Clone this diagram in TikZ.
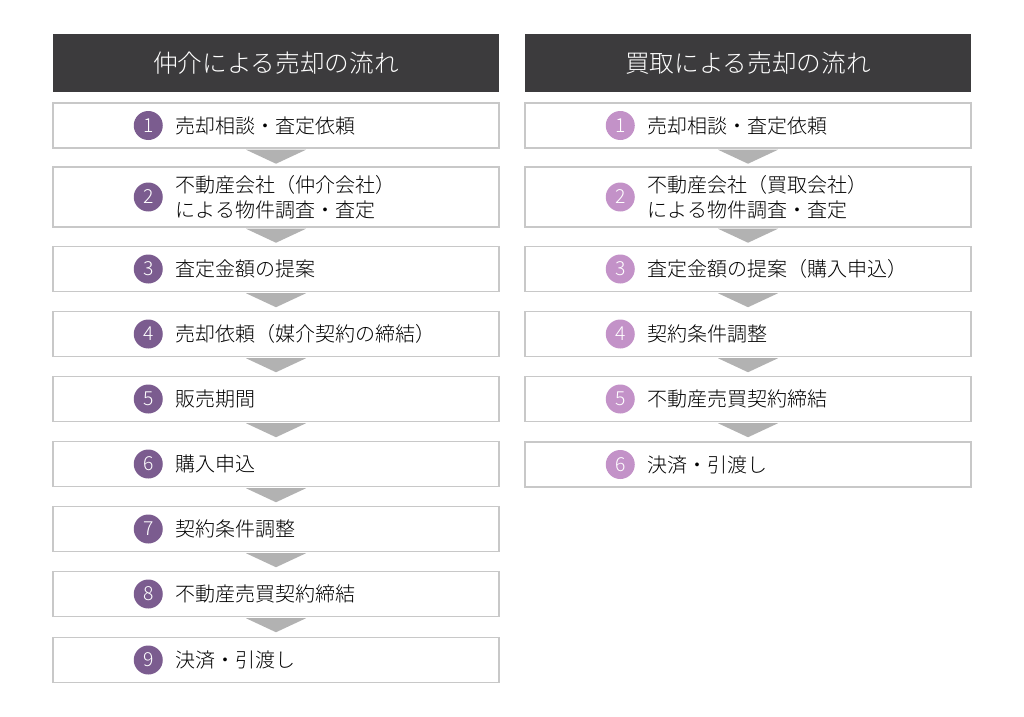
\documentclass[tikz,border=0pt]{standalone}
\usepackage{fontspec}
\setmainfont{Noto Sans CJK JP Light}
\usetikzlibrary{positioning,calc}
\definecolor{headgray}{HTML}{3C3B3D}
\definecolor{boxgray}{HTML}{C8C8C8}
\definecolor{arrowgray}{HTML}{B2B2B2}
\definecolor{darkplum}{HTML}{7B5C8F}
\definecolor{lightplum}{HTML}{C392C8}

\begin{document}
\begin{tikzpicture}[x=0.75pt, y=-0.75pt,
  head/.style={fill=headgray, text=white, minimum width=334.5pt, minimum height=43.5pt, inner sep=0pt, font=\fontsize{18.5}{22}\selectfont},
  stepbox/.style={draw=boxgray, line width=1.1pt, fill=white, minimum width=334.5pt, minimum height=#1, inner sep=0pt},
  numdot/.style={circle, fill=#1, text=white, minimum size=21.75pt, inner sep=0pt, font=\fontsize{14.5}{14.5}\selectfont},
  steptext/.style={inner sep=0pt, anchor=west, align=left, font=\fontsize{15}{19}\selectfont},
  flow/.style={fill=arrowgray}]
\useasboundingbox (0,0) rectangle (1024,717);
% Headers
\node[head] (lhead) at (276,63) {仲介による売却の流れ};
\node[head] (rhead) at (748,63) {買取による売却の流れ};
% Left column: brokerage
\foreach \n/\y/\h/\t in {1/125.5/33.75pt/{売却相談・査定依頼},
    2/197/45pt/{不動産会社（仲介会社）\\による物件調査・査定},
    3/269/33.75pt/{査定金額の提案},
    4/334/33.75pt/{売却依頼（媒介契約の締結）},
    5/399/33.75pt/{販売期間},
    6/464/33.75pt/{購入申込},
    7/529/33.75pt/{契約条件調整},
    8/594/33.75pt/{不動産売買契約締結},
    9/660/33.75pt/{決済・引渡し}}
{
    \node[stepbox=\h] (lb\n) at (276,\y) {};
    \node[numdot=darkplum] (ln\n) at ($(lb\n.west)+(96,0)$) {\n};
    \node[steptext, right=9.5pt of ln\n] (lt\n) {\t};
}
% Right column: direct purchase
\foreach \n/\y/\h/\t in {1/125.5/33.75pt/{売却相談・査定依頼},
    2/197/45pt/{不動産会社（買取会社）\\による物件調査・査定},
    3/269/33.75pt/{査定金額の提案（購入申込）},
    4/334/33.75pt/{契約条件調整},
    5/399/33.75pt/{不動産売買契約締結},
    6/464.5/33.75pt/{決済・引渡し}}
{
    \node[stepbox=\h] (rb\n) at (748,\y) {};
    \node[numdot=lightplum] (rn\n) at ($(rb\n.west)+(96,0)$) {\n};
    \node[steptext, right=9.5pt of rn\n] (rt\n) {\t};
}
% Arrows between steps
\foreach \a in {1,...,8}
    \fill[flow] ($(lb\a.south)+(-30,1)$) -- ($(lb\a.south)+(30,1)$) -- ($(lb\a.south)+(0,15)$) -- cycle;
\foreach \a in {1,...,5}
    \fill[flow] ($(rb\a.south)+(-30,1)$) -- ($(rb\a.south)+(30,1)$) -- ($(rb\a.south)+(0,15)$) -- cycle;
\end{tikzpicture}
\end{document}
